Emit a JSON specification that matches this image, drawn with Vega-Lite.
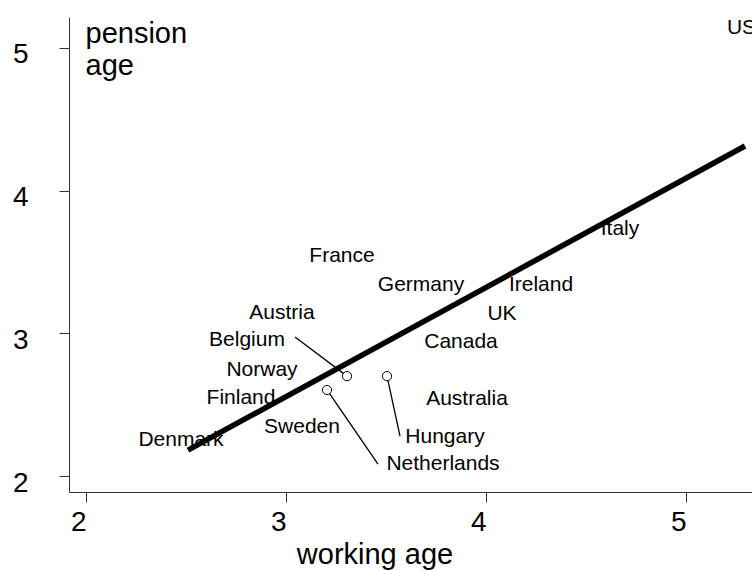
{
  "$schema": "https://vega.github.io/schema/vega-lite/v6.json",
  "width": 683,
  "height": 475,
  "autosize": "none",
  "padding": {"left": 69, "top": 17, "right": 0, "bottom": 78},
  "background": "white",
  "config": {
    "view": {"stroke": null},
    "font": "Liberation Sans",
    "axis": {"grid": false, "domainColor": "#333", "tickColor": "#333", "labelColor": "#000", "titleColor": "#000", "titleFontWeight": "normal", "labelOverlap": false, "labelFlush": false}
  },
  "datasets": {
    "fit": [
      {"working": 2.51, "pension": 2.182},
      {"working": 5.295, "pension": 4.313}
    ],
    "leaders": [
      {"country": "Belgium", "x1": 3.045, "y1": 2.974, "x2": 3.305, "y2": 2.70},
      {"country": "Netherlands", "x1": 3.46, "y1": 2.084, "x2": 3.205, "y2": 2.603},
      {"country": "Hungary", "x1": 3.57, "y1": 2.28, "x2": 3.505, "y2": 2.70}
    ],
    "labels": [
      {"country": "USA", "working": 5.3125, "pension": 5.14},
      {"country": "Italy", "working": 4.67, "pension": 3.731},
      {"country": "France", "working": 3.28, "pension": 3.542},
      {"country": "Germany", "working": 3.675, "pension": 3.338},
      {"country": "Ireland", "working": 4.275, "pension": 3.338},
      {"country": "Austria", "working": 2.98, "pension": 3.142},
      {"country": "UK", "working": 4.08, "pension": 3.135},
      {"country": "Belgium", "working": 2.805, "pension": 2.953},
      {"country": "Canada", "working": 3.875, "pension": 2.939},
      {"country": "Norway", "working": 2.88, "pension": 2.743},
      {"country": "Finland", "working": 2.775, "pension": 2.547},
      {"country": "Australia", "working": 3.905, "pension": 2.54},
      {"country": "Sweden", "working": 3.08, "pension": 2.343},
      {"country": "Hungary", "working": 3.795, "pension": 2.273},
      {"country": "Denmark", "working": 2.475, "pension": 2.252},
      {"country": "Netherlands", "working": 3.785, "pension": 2.084}
    ]
  },
  "layer": [
    {
      "data": {"name": "fit"},
      "mark": {"type": "line", "color": "black", "strokeWidth": 5.5, "strokeCap": "butt"},
      "encoding": {
        "x": {
          "field": "working", "type": "quantitative",
          "scale": {"domain": [1.915, 5.33], "nice": false, "zero": false},
          "axis": {"values": [2, 3, 4, 5], "format": "d", "title": "working age", "titleFontSize": 29, "titleX": 305.5, "titleY": 71, "titleBaseline": "alphabetic", "titleAlign": "center", "labelFontSize": 28, "labelAlign": "right", "labelBaseline": "top", "labelPadding": 6, "tickSize": 10}
        },
        "y": {
          "field": "pension", "type": "quantitative",
          "scale": {"domain": [1.888, 5.217], "nice": false, "zero": false},
          "axis": {"values": [2, 3, 4, 5], "format": "d", "title": ["pension", "age"], "titleAngle": 0, "titleAlign": "left", "titleBaseline": "alphabetic", "titleX": 16, "titleY": 25, "titleFontSize": 29, "titleLineHeight": 32, "labelFontSize": 28, "labelAlign": "right", "labelBaseline": "middle", "labelPadding": 31, "labelOffset": 7, "tickSize": 10}
        }
      }
    },
    {
      "data": {"name": "leaders"},
      "mark": {"type": "rule", "color": "black", "strokeWidth": 1.3},
      "encoding": {
        "x": {"field": "x1", "type": "quantitative"},
        "y": {"field": "y1", "type": "quantitative"},
        "x2": {"field": "x2"},
        "y2": {"field": "y2"}
      }
    },
    {
      "data": {"name": "leaders"},
      "mark": {"type": "point", "shape": "circle", "size": 85, "fill": "white", "stroke": "black", "strokeWidth": 1, "opacity": 1, "filled": false, "fillOpacity": 1},
      "encoding": {
        "x": {"field": "x2", "type": "quantitative"},
        "y": {"field": "y2", "type": "quantitative"}
      }
    },
    {
      "data": {"name": "labels"},
      "mark": {"type": "text", "fontSize": 21, "align": "center", "baseline": "middle", "color": "black"},
      "encoding": {
        "x": {"field": "working", "type": "quantitative"},
        "y": {"field": "pension", "type": "quantitative"},
        "text": {"field": "country"}
      }
    }
  ]
}
